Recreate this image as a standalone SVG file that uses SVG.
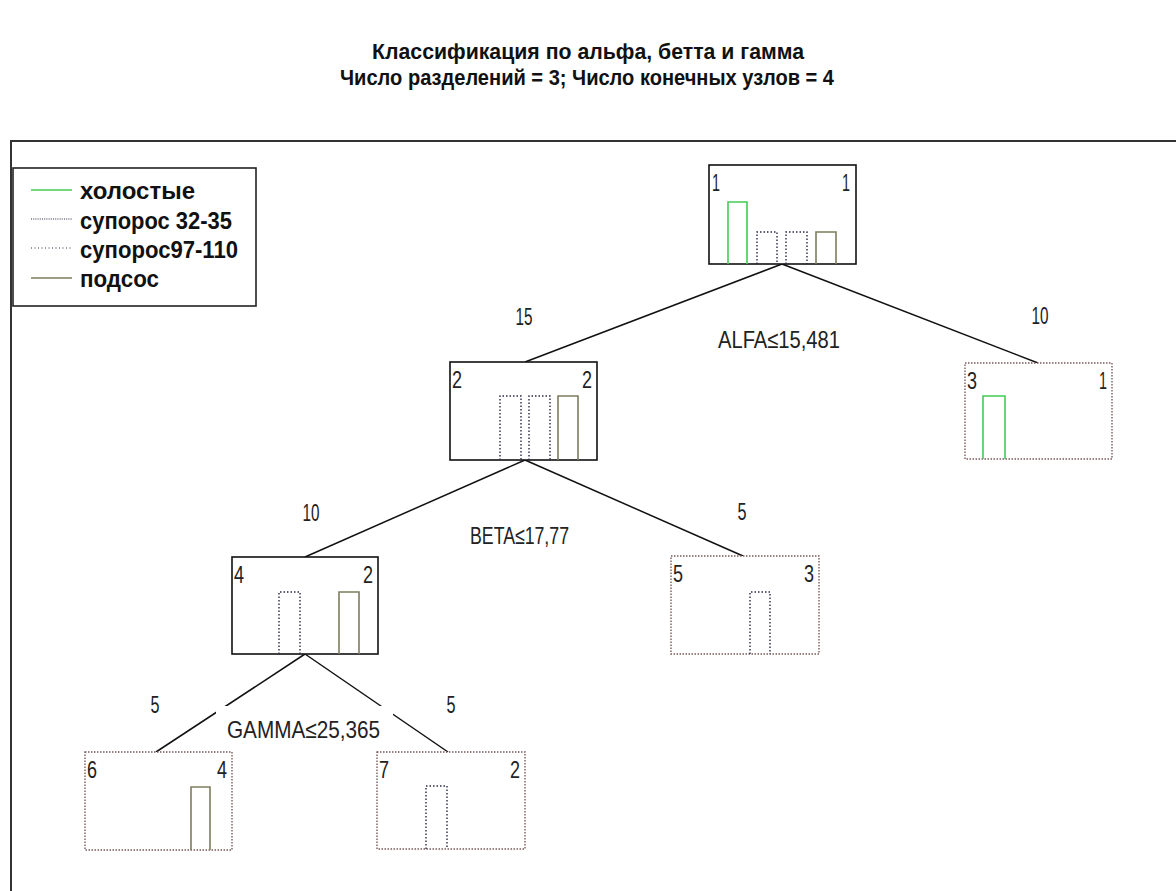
<svg xmlns="http://www.w3.org/2000/svg" width="1176" height="891" viewBox="0 0 1176 891">
<style>
.title{font-family:"Liberation Sans Narrow","Liberation Sans",Arial,sans-serif;font-weight:bold;font-size:22px;fill:#111;text-anchor:middle}
.leg{font-family:"Liberation Sans Narrow","Liberation Sans",Arial,sans-serif;font-weight:bold;font-size:24px;fill:#111}
.num{font-family:"Liberation Sans Narrow","Liberation Sans",Arial,sans-serif;font-size:24px;fill:#222}
.mid{text-anchor:middle}
.end{text-anchor:end}
.inner{fill:#fff;stroke:#111;stroke-width:1.6}
.leaf{fill:#fff;stroke:#7a5a5a;stroke-width:1.4;stroke-dasharray:1.5 1.5}
.g{fill:none;stroke:#44cc55;stroke-width:1.6}
.o{fill:none;stroke:#7d7d5e;stroke-width:1.6}
.d{fill:none;stroke:#2a2a48;stroke-width:1.4;stroke-dasharray:1.5 2}
.c{fill:none;stroke:#111;stroke-width:1.5}
</style>
<rect width="1176" height="891" fill="#fff"/>
<g id="title">
<text class="title" x="588" y="59" textLength="432" lengthAdjust="spacingAndGlyphs">Классификация по альфа, бетта и гамма</text>
<text class="title" x="587" y="85" textLength="494" lengthAdjust="spacingAndGlyphs">Число разделений = 3; Число конечных узлов = 4</text>
</g>
<path id="frame" d="M1180,141 H11 V895" fill="none" stroke="#333" stroke-width="2"/>
<g id="legend">
<rect x="13" y="168" width="243" height="138" fill="#fff" stroke="#222" stroke-width="1.6"/>
<line x1="31" y1="190" x2="72" y2="190" class="g"/>
<line x1="31" y1="219" x2="72" y2="219" stroke="#2a2a48" stroke-width="1.2" stroke-dasharray="1 1.2"/>
<line x1="31" y1="248" x2="72" y2="248" stroke="#2a2a48" stroke-width="1.2" stroke-dasharray="1 2.5"/>
<line x1="31" y1="278" x2="72" y2="278" class="o"/>
<text class="leg" x="80" y="199" textLength="115" lengthAdjust="spacingAndGlyphs">холостые</text>
<text class="leg" x="80" y="229" textLength="152" lengthAdjust="spacingAndGlyphs">супорос 32-35</text>
<text class="leg" x="80" y="258" textLength="158" lengthAdjust="spacingAndGlyphs">супорос97-110</text>
<text class="leg" x="80" y="287" textLength="79" lengthAdjust="spacingAndGlyphs">подсос</text>
</g>
<g id="connectors">
<line class="c" x1="782" y1="264" x2="525" y2="362"/>
<line class="c" x1="782" y1="264" x2="1038" y2="363"/>
<line class="c" x1="525" y1="460" x2="305" y2="557"/>
<line class="c" x1="525" y1="460" x2="743" y2="556"/>
<line class="c" x1="305" y1="654" x2="156" y2="752"/>
<line class="c" x1="305" y1="654" x2="448" y2="752"/>
</g>
<g id="labels">
<text class="num mid" x="524" y="325" textLength="17" lengthAdjust="spacingAndGlyphs">15</text>
<text class="num mid" x="1040" y="324" textLength="17" lengthAdjust="spacingAndGlyphs">10</text>
<text class="num mid" x="311" y="521" textLength="17" lengthAdjust="spacingAndGlyphs">10</text>
<text class="num mid" x="742" y="520" textLength="9" lengthAdjust="spacingAndGlyphs">5</text>
<text class="num mid" x="155" y="713" textLength="9" lengthAdjust="spacingAndGlyphs">5</text>
<text class="num mid" x="451" y="713" textLength="9" lengthAdjust="spacingAndGlyphs">5</text>
<text class="num" x="718" y="348" textLength="122" lengthAdjust="spacingAndGlyphs">ALFA≤15,481</text>
<text class="num" x="470" y="544" textLength="99" lengthAdjust="spacingAndGlyphs">BETA≤17,77</text>
<rect x="216" y="706" width="177" height="40" fill="#fff"/>
<text class="num" x="227" y="738" textLength="153" lengthAdjust="spacingAndGlyphs">GAMMA≤25,365</text>
</g>
<g id="node1">
<rect class="inner" x="709" y="165" width="147" height="99"/>
<text class="num" x="712" y="191" textLength="8" lengthAdjust="spacingAndGlyphs">1</text>
<text class="num end" x="850" y="191" textLength="8" lengthAdjust="spacingAndGlyphs">1</text>
<path class="g" d="M728,264 V202 H747 V264"/>
<path class="d" d="M757,264 V232 H777 V264"/>
<path class="d" d="M786,264 V232 H807 V264"/>
<path class="o" d="M816,264 V232 H836 V264"/>
</g>
<g id="node2">
<rect class="inner" x="450" y="362" width="147" height="98"/>
<text class="num" x="452" y="388" textLength="10" lengthAdjust="spacingAndGlyphs">2</text>
<text class="num end" x="592" y="388" textLength="10" lengthAdjust="spacingAndGlyphs">2</text>
<path class="d" d="M500,460 V396 H521 V460"/>
<path class="d" d="M529,460 V396 H550 V460"/>
<path class="o" d="M558,460 V396 H578 V460"/>
</g>
<g id="node3">
<rect class="leaf" x="965" y="363" width="147" height="96"/>
<text class="num" x="967" y="389" textLength="10" lengthAdjust="spacingAndGlyphs">3</text>
<text class="num end" x="1107" y="389" textLength="8" lengthAdjust="spacingAndGlyphs">1</text>
<path class="g" d="M983,459 V396 H1005 V459"/>
</g>
<g id="node4">
<rect class="inner" x="232" y="557" width="146" height="97"/>
<text class="num" x="234" y="583" textLength="10" lengthAdjust="spacingAndGlyphs">4</text>
<text class="num end" x="373" y="583" textLength="10" lengthAdjust="spacingAndGlyphs">2</text>
<path class="d" d="M279,654 V592 H300 V654"/>
<path class="o" d="M339,654 V592 H359 V654"/>
</g>
<g id="node5">
<rect class="leaf" x="671" y="556" width="148" height="98"/>
<text class="num" x="673" y="582" textLength="10" lengthAdjust="spacingAndGlyphs">5</text>
<text class="num end" x="814" y="582" textLength="10" lengthAdjust="spacingAndGlyphs">3</text>
<path class="d" d="M750,654 V592 H770 V654"/>
</g>
<g id="node6">
<rect class="leaf" x="85" y="752" width="147" height="98"/>
<text class="num" x="87" y="778" textLength="10" lengthAdjust="spacingAndGlyphs">6</text>
<text class="num end" x="227" y="778" textLength="10" lengthAdjust="spacingAndGlyphs">4</text>
<path class="o" d="M191,850 V787 H210 V850"/>
</g>
<g id="node7">
<rect class="leaf" x="377" y="752" width="148" height="97"/>
<text class="num" x="379" y="778" textLength="10" lengthAdjust="spacingAndGlyphs">7</text>
<text class="num end" x="520" y="778" textLength="10" lengthAdjust="spacingAndGlyphs">2</text>
<path class="d" d="M426,849 V786 H447 V849"/>
</g>
</svg>
